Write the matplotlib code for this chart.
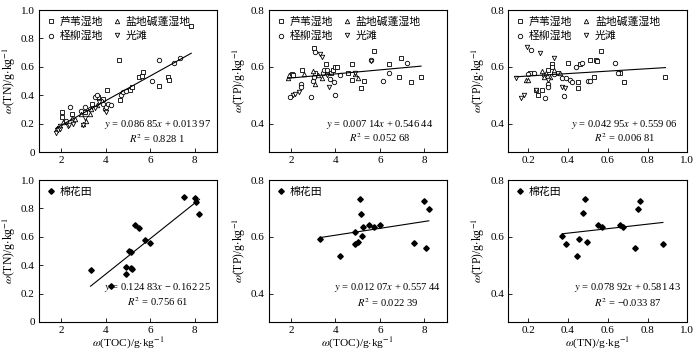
import matplotlib
matplotlib.use('Agg')
import matplotlib.pyplot as plt
from matplotlib.ticker import FuncFormatter

plt.rcParams['font.family'] = ['Liberation Serif', 'Noto Sans CJK SC']
plt.rcParams['mathtext.fontset'] = 'stix'
plt.rcParams['axes.linewidth'] = 0.8

# ---- data ----
# top row: 4 wetland types, markers s / o / ^ / v
groups = ['芦苇湿地', '柽柳湿地', '盐地碱蓬湿地', '光滩']
markers = ['s', 'o', '^', 'v']

# panel a: TOC vs TN
toc_tn_reed_x = [2.03, 2.03, 2.5, 3.05, 3.4, 3.65, 3.9, 4.07, 4.62, 4.65, 5.1, 5.2, 5.5, 5.63, 5.7, 6.4, 6.8, 6.85, 7.85]
toc_tn_reed_y = [0.28, 0.25, 0.27, 0.28, 0.34, 0.39, 0.37, 0.44, 0.645, 0.365, 0.44, 0.455, 0.525, 0.535, 0.565, 0.465, 0.53, 0.51, 0.89]
toc_tn_tam_x = [2.41, 2.2, 2.9, 3.05, 3.3, 3.52, 3.6, 3.8, 3.9, 3.95, 4.0, 4.1, 4.25, 4.7, 4.8, 4.9, 6.1, 6.4, 7.08, 7.33]
toc_tn_tam_y = [0.315, 0.22, 0.29, 0.32, 0.30, 0.39, 0.40, 0.36, 0.34, 0.30, 0.32, 0.34, 0.33, 0.40, 0.42, 0.43, 0.50, 0.65, 0.628, 0.665]
toc_tn_sua_x = [1.8, 2.1, 2.5, 2.6, 2.9, 3.0, 3.1, 3.3, 3.35, 3.6]
toc_tn_sua_y = [0.17, 0.21, 0.24, 0.23, 0.27, 0.20, 0.22, 0.27, 0.30, 0.33]
toc_tn_mud_x = [1.75, 1.85, 1.93, 1.96, 2.3, 2.35, 2.55, 3.0, 3.05, 3.5, 3.7, 4.0]
toc_tn_mud_y = [0.134, 0.153, 0.165, 0.18, 0.18, 0.19, 0.20, 0.19, 0.24, 0.31, 0.35, 0.28]

# panel b: TOC vs TP
toc_tp_reed_x = [2.06, 2.1, 2.5, 3.04, 3.56, 3.8, 3.9, 4.0, 4.07, 4.55, 4.74, 4.74, 5.15, 5.3, 5.75, 6.43, 6.85, 6.95, 7.4, 7.85, 3.1]
toc_tp_reed_y = [0.575, 0.572, 0.588, 0.666, 0.611, 0.58, 0.59, 0.60, 0.60, 0.578, 0.609, 0.553, 0.525, 0.55, 0.656, 0.61, 0.565, 0.63, 0.545, 0.565, 0.58]
toc_tp_tam_x = [1.95, 2.43, 2.43, 2.91, 3.0, 3.08, 3.05, 3.45, 3.5, 3.6, 3.93, 4.0, 4.2, 5.6, 6.12, 6.4, 7.2, 3.75]
toc_tp_tam_y = [0.494, 0.541, 0.529, 0.494, 0.55, 0.654, 0.565, 0.58, 0.59, 0.59, 0.547, 0.50, 0.57, 0.625, 0.55, 0.58, 0.615, 0.558]
toc_tp_sua_x = [1.85, 1.9, 2.6, 3.0, 3.1, 3.4, 4.9, 5.0, 3.2]
toc_tp_sua_y = [0.56, 0.57, 0.575, 0.585, 0.54, 0.56, 0.575, 0.56, 0.57]
toc_tp_mud_x = [2.1, 2.2, 3.3, 3.38, 3.71, 3.6, 5.6, 4.9, 2.35]
toc_tp_mud_y = [0.50, 0.506, 0.646, 0.634, 0.528, 0.57, 0.622, 0.58, 0.51]

# panel c: TN vs TP
tn_tp_reed_x = [0.21, 0.25, 0.27, 0.32, 0.32, 0.30, 0.4, 0.45, 0.45, 0.51, 0.54, 0.545, 0.565, 0.53, 0.66, 0.68, 0.89, 0.24, 0.35, 0.46]
tn_tp_reed_y = [0.58, 0.50, 0.52, 0.61, 0.60, 0.59, 0.612, 0.545, 0.525, 0.625, 0.625, 0.62, 0.656, 0.565, 0.578, 0.545, 0.565, 0.52, 0.58, 0.61]
tn_tp_tam_x = [0.213, 0.2, 0.23, 0.285, 0.3, 0.3, 0.38, 0.41, 0.42, 0.44, 0.47, 0.5, 0.51, 0.635, 0.65, 0.28, 0.33, 0.37, 0.39]
tn_tp_tam_y = [0.658, 0.575, 0.578, 0.49, 0.54, 0.53, 0.498, 0.555, 0.547, 0.60, 0.612, 0.55, 0.55, 0.612, 0.578, 0.57, 0.575, 0.56, 0.56]
tn_tp_sua_x = [0.19, 0.2, 0.27, 0.29, 0.31, 0.33, 0.36, 0.28]
tn_tp_sua_y = [0.555, 0.555, 0.585, 0.58, 0.565, 0.59, 0.58, 0.565]
tn_tp_mud_x = [0.14, 0.165, 0.18, 0.195, 0.26, 0.33, 0.37, 0.385, 0.24, 0.3]
tn_tp_mud_y = [0.562, 0.49, 0.50, 0.67, 0.65, 0.63, 0.53, 0.525, 0.52, 0.555]

# bottom row: cotton field (棉花田)
cot_toc_tn_x = [3.32, 4.25, 4.9, 4.9, 5.03, 5.15, 5.15, 5.2, 5.3, 5.5, 5.75, 6.0, 7.52, 8.0, 8.07, 8.22]
cot_toc_tn_y = [0.367, 0.255, 0.39, 0.34, 0.50, 0.49, 0.38, 0.375, 0.685, 0.665, 0.575, 0.556, 0.883, 0.87, 0.845, 0.76]
cot_toc_tp_x = [3.3, 4.22, 4.9, 4.9, 5.0, 5.1, 5.17, 5.22, 5.2, 5.5, 5.75, 6.0, 7.52, 8.0, 8.07, 8.2]
cot_toc_tp_y = [0.594, 0.534, 0.618, 0.576, 0.581, 0.734, 0.682, 0.635, 0.602, 0.64, 0.635, 0.641, 0.579, 0.727, 0.559, 0.699]
cot_tn_tp_x = [0.372, 0.389, 0.448, 0.458, 0.478, 0.488, 0.498, 0.549, 0.571, 0.66, 0.677, 0.737, 0.752, 0.764, 0.877]
cot_tn_tp_y = [0.602, 0.576, 0.532, 0.593, 0.685, 0.734, 0.581, 0.641, 0.635, 0.64, 0.635, 0.559, 0.699, 0.727, 0.576]

# fitted lines (as printed in the figure)
slopes = [0.08685, 0.00714, 0.04295, 0.12483, 0.01207, 0.07892]
intercepts = [0.01397, 0.54644, 0.55906, -0.16225, 0.55744, 0.58143]
eq_text = [r'$y$ = 0.086 85$x$ + 0.013 97', r'$y$ = 0.007 14$x$ + 0.546 44',
           r'$y$ = 0.042 95$x$ + 0.559 06', r'$y$ = 0.124 83$x$ − 0.162 25',
           r'$y$ = 0.012 07$x$ + 0.557 44', r'$y$ = 0.078 92$x$ + 0.581 43']
r2_text = [r'$R^2$ = 0.828 1', r'$R^2$ = 0.052 68', r'$R^2$ = 0.006 81',
           r'$R^2$ = 0.756 61', r'$R^2$ = 0.022 39', r'$R^2$ = −0.033 87']

top_x = [[toc_tn_reed_x, toc_tn_tam_x, toc_tn_sua_x, toc_tn_mud_x],
         [toc_tp_reed_x, toc_tp_tam_x, toc_tp_sua_x, toc_tp_mud_x],
         [tn_tp_reed_x, tn_tp_tam_x, tn_tp_sua_x, tn_tp_mud_x]]
top_y = [[toc_tn_reed_y, toc_tn_tam_y, toc_tn_sua_y, toc_tn_mud_y],
         [toc_tp_reed_y, toc_tp_tam_y, toc_tp_sua_y, toc_tp_mud_y],
         [tn_tp_reed_y, tn_tp_tam_y, tn_tp_sua_y, tn_tp_mud_y]]
bot_x = [cot_toc_tn_x, cot_toc_tp_x, cot_tn_tp_x]
bot_y = [cot_toc_tn_y, cot_toc_tp_y, cot_tn_tp_y]

ylab_tn = r'$\omega$(TN)/g$\cdot$kg$^{-1}$'
ylab_tp = r'$\omega$(TP)/g$\cdot$kg$^{-1}$'
xlab_toc = r'$\omega$(TOC)/g$\cdot$kg$^{-1}$'
xlab_tn = r'$\omega$(TN)/g$\cdot$kg$^{-1}$'

fig = plt.figure(figsize=(7, 3.54), dpi=100)
lefts = [0.0557, 0.384, 0.726]
widths = [0.254, 0.254, 0.256]
bottoms = [0.5706, 0.0904]
h = 0.401

eq_pos = [(0.666, 0.197, 0.097), (0.624, 0.197, 0.105), (0.648, 0.197, 0.100),
          (0.666, 0.240, 0.143), (0.669, 0.240, 0.140), (0.665, 0.240, 0.140)]
xlims = [(1, 9), (1, 9), (0.1, 1.0)]
ylims = [(0, 1), (0.3, 0.8), (0.3, 0.8)]
ylabs = [ylab_tn, ylab_tp, ylab_tp]
xlabs = [xlab_toc, xlab_toc, xlab_tn]

fmt = FuncFormatter(lambda v, p: '0' if abs(v) < 1e-9 else f'{v:.1f}')
cjk = ['Noto Sans CJK SC']

for r in range(2):
    for c in range(3):
        k = r * 3 + c
        ax = fig.add_axes([lefts[c], bottoms[r], widths[c], h])
        if r == 0:
            for xs, ys, m, g in zip(top_x[c], top_y[c], markers, groups):
                ax.plot(xs, ys, m, ms=3.2, mfc='white', mec='black', mew=0.6,
                        linestyle='none', label=g)
            allx = [v for xs in top_x[c] for v in xs]
            ax.legend(loc='upper left', ncol=2, frameon=False,
                      prop={'family': cjk, 'size': 7.8},
                      handletextpad=0.3, columnspacing=0.8,
                      borderaxespad=0.2, labelspacing=0.35,
                      handlelength=1.0)
        else:
            ax.plot(bot_x[c], bot_y[c], 'D', ms=2.8, color='black',
                    linestyle='none', label='棉花田')
            allx = bot_x[c]
            ax.legend(loc='upper left', frameon=False,
                      prop={'family': cjk, 'size': 7.8},
                      handletextpad=0.3, borderaxespad=0.2, handlelength=1.0)
            ax.set_xlabel(xlabs[c], fontsize=8.2, labelpad=0)
        x0, x1 = min(allx), max(allx)
        ax.plot([x0, x1], [slopes[k] * x0 + intercepts[k], slopes[k] * x1 + intercepts[k]],
                color='black', lw=0.8)
        ex, ey1, ey2 = eq_pos[k]
        ax.text(ex, ey1, eq_text[k], transform=ax.transAxes, ha='center', va='center', fontsize=7.6)
        ax.text(ex, ey2, r2_text[k], transform=ax.transAxes, ha='center', va='center', fontsize=7.6)

        ax.set_xlim(xlims[c])
        ax.set_ylim(ylims[c])
        if c == 2:
            ax.set_xticks([0.2, 0.4, 0.6, 0.8, 1.0])
        else:
            ax.set_xticks([2, 4, 6, 8])
        if c == 0:
            ax.set_yticks([0, 0.2, 0.4, 0.6, 0.8, 1.0])
        else:
            ax.set_yticks([0.4, 0.6, 0.8])
        ax.yaxis.set_major_formatter(fmt)
        if c == 2:
            ax.xaxis.set_major_formatter(fmt)
        ax.tick_params(direction='in', length=3, width=0.6, labelsize=8, pad=3)
        ax.set_ylabel(ylabs[c], fontsize=8.5, labelpad=2)

fig.savefig('out.png', dpi=100)
